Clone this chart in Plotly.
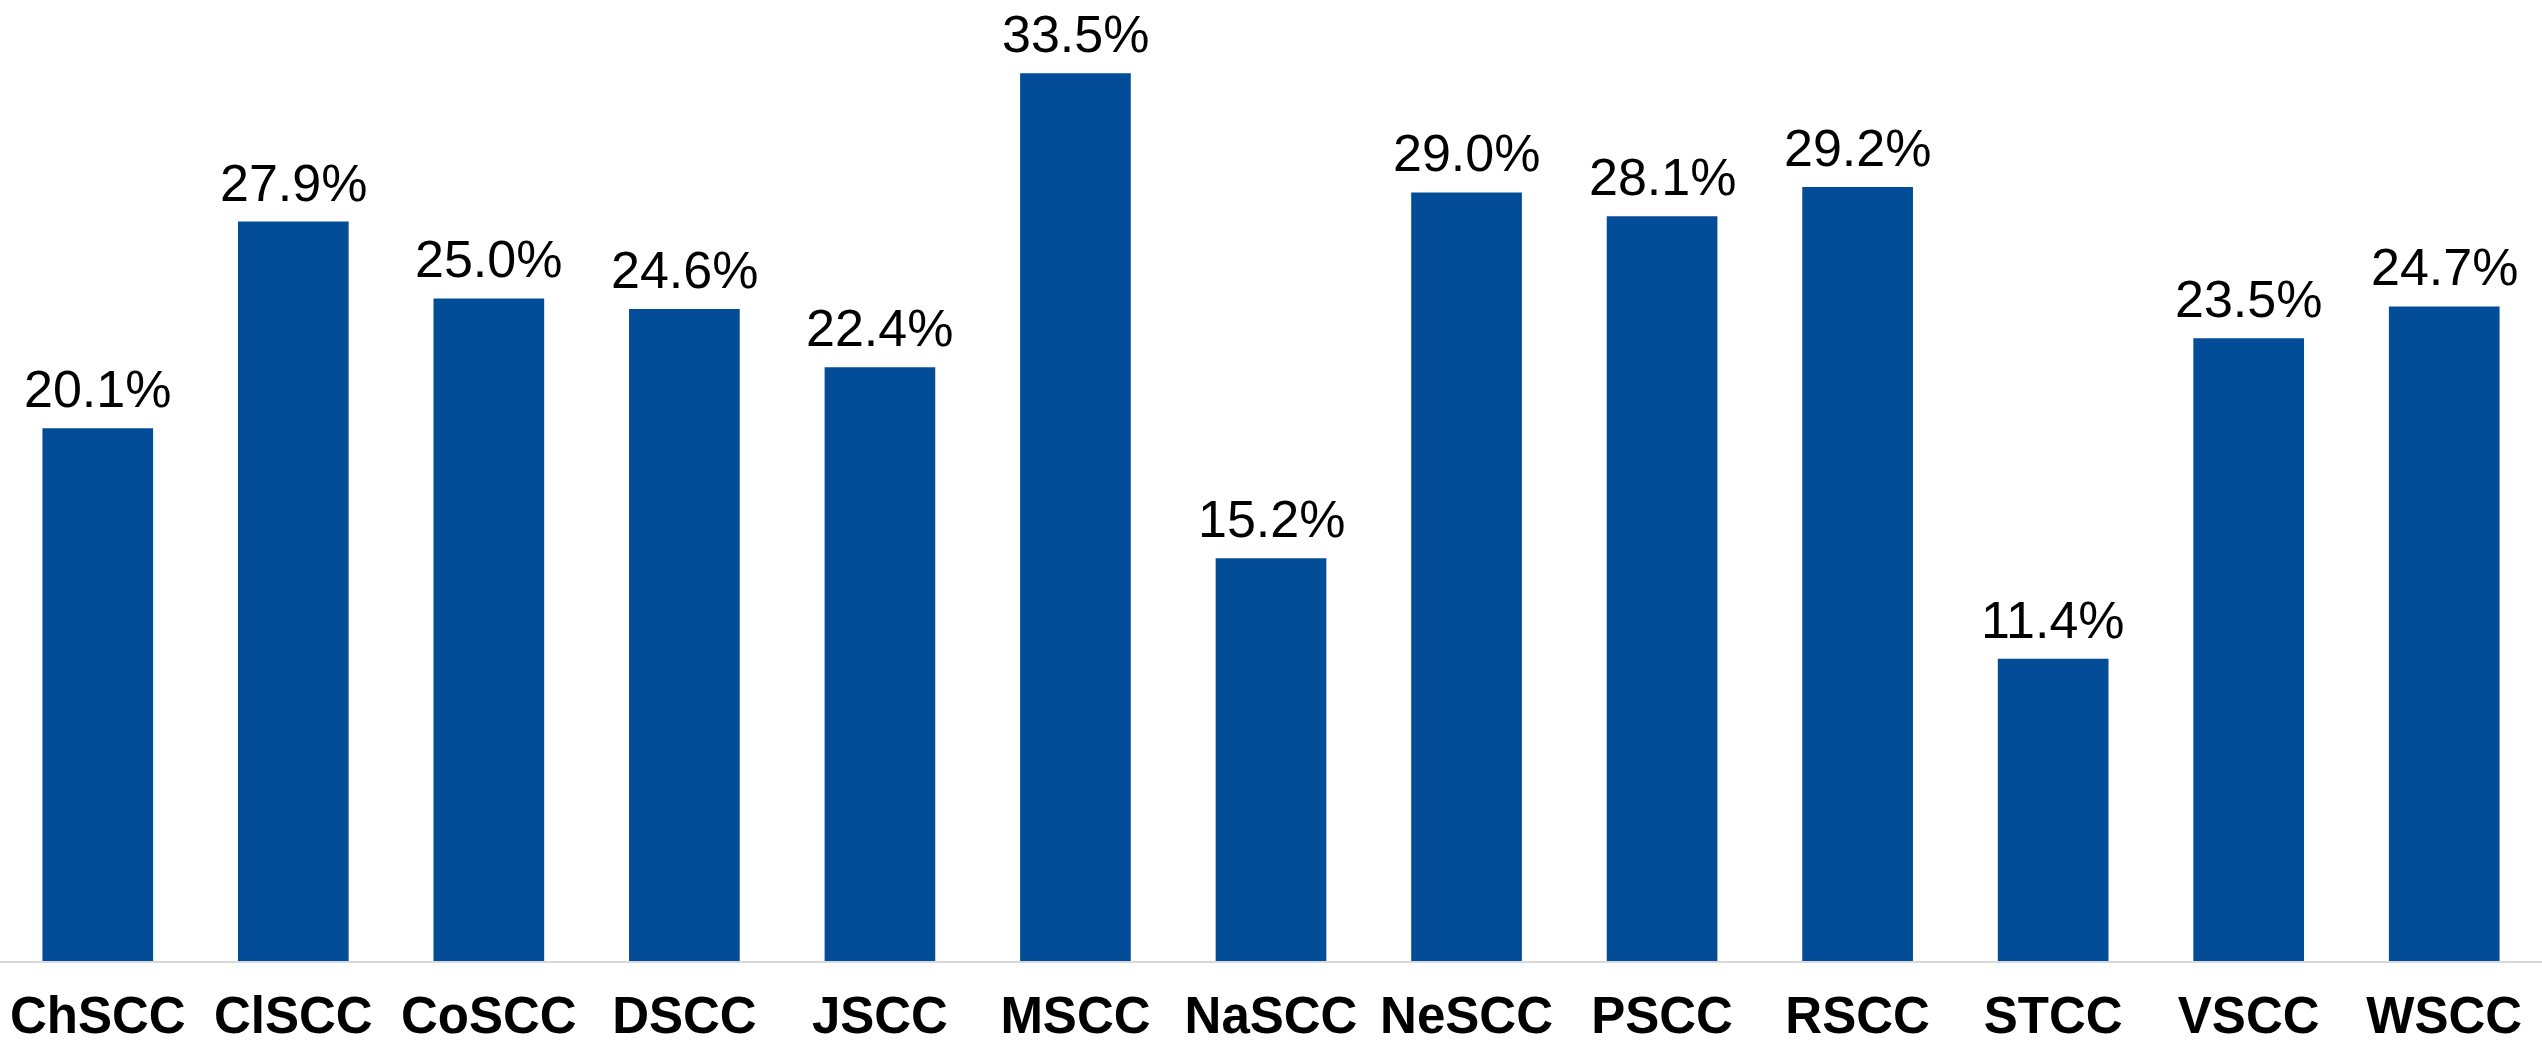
import plotly.graph_objects as go

categories = ["ChSCC", "ClSCC", "CoSCC", "DSCC", "JSCC", "MSCC", "NaSCC",
              "NeSCC", "PSCC", "RSCC", "STCC", "VSCC", "WSCC"]
values = [20.1, 27.9, 25.0, 24.6, 22.4, 33.5, 15.2, 29.0, 28.1, 29.2, 11.4, 23.5, 24.7]

BAR = "#024C98"
FONT = "Liberation Sans, Arial, sans-serif"

fig = go.Figure(go.Bar(
    x=categories, y=values,
    marker=dict(color=BAR, line=dict(width=0)),
    cliponaxis=False,
    hoverinfo="skip",
))

for c, v in zip(categories, values):
    fig.add_annotation(
        x=c, y=v, text=f"{v:.1f}%", showarrow=False,
        xanchor="center", yanchor="bottom", yshift=8,
        font=dict(family=FONT, size=52, color="#000000"),
    )

fig.update_layout(
    width=2542, height=1043,
    margin=dict(l=0, r=0, t=0, b=82, autoexpand=False),
    paper_bgcolor="white", plot_bgcolor="white",
    bargap=0.434,
    showlegend=False,
)
fig.update_xaxes(
    showline=True, linecolor="#D9D9D9", linewidth=2,
    showgrid=False, ticks="", automargin=False,
    ticklabelstandoff=9,
    tickfont=dict(family=FONT, size=51, color="#000000", weight="bold"),
)
fig.update_yaxes(range=[0, 36.26], visible=False, showgrid=False, automargin=False)

fig.write_html("out.html", config={"displayModeBar": False},
               post_script="document.body.style.margin='0px';")
